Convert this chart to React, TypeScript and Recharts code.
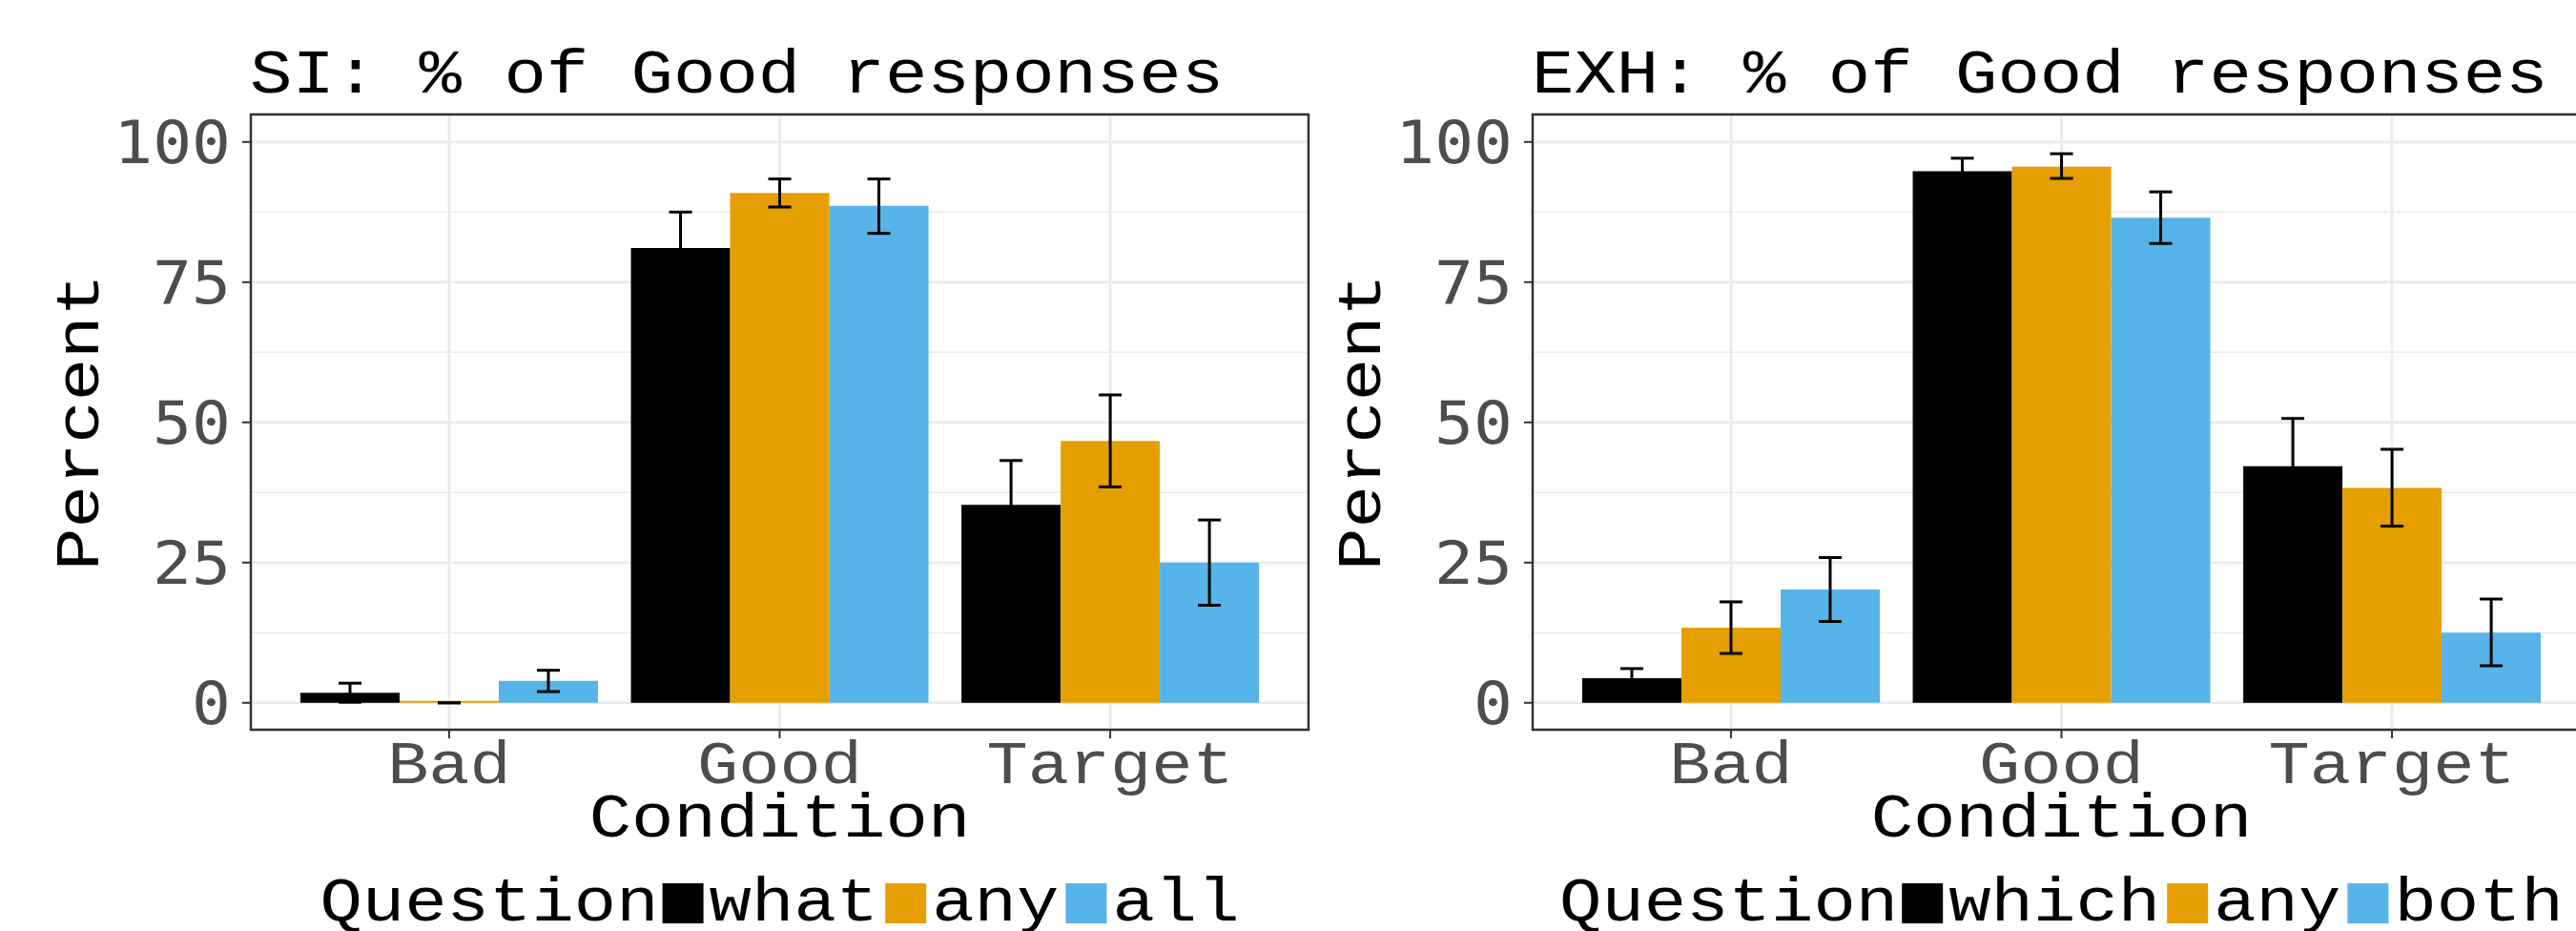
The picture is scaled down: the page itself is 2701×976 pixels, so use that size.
import { BarChart, Bar, XAxis, YAxis, CartesianGrid, ErrorBar } from 'recharts';

const categories = ['Bad', 'Good', 'Target'];

// SI panel: question = what / any / all
const siWhat = [1.8, 81.1, 35.3];
const siWhatLow = [0.1, 74.7, 27.4];
const siWhatHigh = [3.5, 87.5, 43.2];
const siAny = [0, 90.9, 46.7];
const siAnyLow = [0, 88.4, 38.5];
const siAnyHigh = [0, 93.4, 54.9];
const siAll = [3.9, 88.6, 25.0];
const siAllLow = [2.0, 83.7, 17.4];
const siAllHigh = [5.8, 93.4, 32.6];

// EXH panel: question = which / any / both
const exhWhich = [4.4, 94.8, 42.2];
const exhWhichLow = [2.7, 92.4, 33.7];
const exhWhichHigh = [6.1, 97.1, 50.7];
const exhAny = [13.4, 95.6, 38.3];
const exhAnyLow = [8.8, 93.5, 31.5];
const exhAnyHigh = [18.0, 97.9, 45.2];
const exhBoth = [20.2, 86.5, 12.5];
const exhBothLow = [14.5, 81.9, 6.6];
const exhBothHigh = [25.9, 91.1, 18.5];

const yTicks = [0, 25, 50, 75, 100];
const yMinor = [12.5, 37.5, 62.5, 87.5];

const COLORS = ['#000000', '#E69F00', '#56B4E9'];
const MONO = '"Liberation Mono", monospace';
const TICK_FONT = '"DejaVu Sans Mono", monospace';
const SY = 0.87; // squash Liberation Mono toward Courier proportions

const W = 1380;
const H = 976;
const PLOT_L = 263;
const PLOT_T = 120;
const PLOT_W = 1109;
const PLOT_H = 645;
const Y_AXIS_W = 200;
const X_AXIS_H = 100;
const BAND = PLOT_W / 3.2;

function buildRows(vals: number[][], lows: number[][], highs: number[][]) {
  return categories.map((c, i) => {
    const row: any = { condition: c };
    vals.forEach((v, s) => {
      row['s' + s] = v[i];
      row['e' + s] = [v[i] - lows[s][i], highs[s][i] - v[i]];
    });
    return row;
  });
}

function Txt({ x, y, size, children, anchor = 'start', fill = '#000', family = MONO, sy = SY, rotate = 0 }: any) {
  return (
    <text
      transform={`translate(${x},${y}) rotate(${rotate}) scale(1,${sy})`}
      textAnchor={anchor}
      fontFamily={family}
      fontSize={size}
      fill={fill}
    >
      {children}
    </text>
  );
}

const XTick = (p: any) => (
  <Txt x={p.x} y={p.y + 45} size={72} anchor="middle" fill="#4D4D4D">
    {p.payload.value}
  </Txt>
);

const YTick = (p: any) => (
  <Txt x={p.x - 10} y={p.y + 22.5} size={68} anchor="end" fill="#4D4D4D" family={TICK_FONT} sy={0.91}>
    {p.payload.value}
  </Txt>
);

function Legend({ names }: { names: string[] }) {
  const fs = 74;
  const cw = fs * 0.6;
  const total = (8 + names.reduce((a, n) => a + n.length, 0)) * cw + 165;
  let x = PLOT_L + PLOT_W / 2 - total / 2;
  const items: any[] = [
    <Txt key="t" x={x} y={965} size={fs}>
      Question
    </Txt>,
  ];
  x += 8 * cw + 4;
  names.forEach((n, i) => {
    items.push(<rect key={'k' + i} x={x} y={926} width={43} height={42} fill={COLORS[i]} />);
    x += 49;
    items.push(
      <Txt key={'l' + i} x={x} y={965} size={fs}>
        {n}
      </Txt>
    );
    x += n.length * cw + 7;
  });
  return <g>{items}</g>;
}

// vertical major gridlines sit on the category centres
const verticalGrid = (props: any) => {
  const scale = props?.xAxis?.scale;
  if (typeof scale === 'function' && typeof scale.bandwidth === 'function') {
    return categories.map((c) => scale(c) + scale.bandwidth() / 2);
  }
  return categories.map((_, i) => PLOT_L + BAND * (0.6 + i));
};

function Panel({ left, title, names, rows }: any) {
  return (
    <div style={{ position: 'absolute', left, top: 0, width: W, height: H }}>
      <BarChart
        width={W}
        height={H}
        data={rows}
        margin={{
          top: PLOT_T,
          right: W - PLOT_L - PLOT_W,
          left: PLOT_L - Y_AXIS_W,
          bottom: H - PLOT_T - PLOT_H - X_AXIS_H,
        }}
        barCategoryGap="5%"
        barGap={0}
      >
        <CartesianGrid horizontalValues={yMinor} vertical={false} stroke="#EBEBEB" strokeWidth={1.4} />
        <CartesianGrid stroke="#EBEBEB" strokeWidth={2.8} verticalCoordinatesGenerator={verticalGrid} />
        <XAxis
          dataKey="condition"
          height={X_AXIS_H}
          padding={{ left: BAND * 0.1, right: BAND * 0.1 }}
          axisLine={false}
          tickLine={{ stroke: '#333333', strokeWidth: 2 }}
          tickSize={9}
          tickMargin={2}
          interval={0}
          tick={XTick}
        />
        <YAxis
          type="number"
          domain={[-4.8, 104.9]}
          ticks={yTicks}
          allowDataOverflow
          width={Y_AXIS_W}
          axisLine={false}
          tickLine={{ stroke: '#333333', strokeWidth: 2 }}
          tickSize={9}
          tickMargin={2}
          tick={YTick}
        />
        {names.map((n: string, i: number) => (
          <Bar key={n} dataKey={'s' + i} name={n} fill={COLORS[i]} minPointSize={2} isAnimationActive={false}>
            <ErrorBar dataKey={'e' + i} width={12} strokeWidth={3} stroke="#000" isAnimationActive={false} />
          </Bar>
        ))}
      </BarChart>
      <svg width={W} height={H} style={{ position: 'absolute', left: 0, top: 0, pointerEvents: 'none' }}>
        <rect x={PLOT_L} y={PLOT_T} width={PLOT_W} height={PLOT_H} fill="none" stroke="#333333" strokeWidth={2.5} />
        <Txt x={262} y={97} size={74}>
          {title}
        </Txt>
        <Txt x={103} y={PLOT_T + PLOT_H / 2} size={74} anchor="middle" rotate={-90}>
          Percent
        </Txt>
        <Txt x={PLOT_L + PLOT_W / 2} y={877} size={74} anchor="middle">
          Condition
        </Txt>
        <Legend names={names} />
      </svg>
    </div>
  );
}

export default function App() {
  const siRows = buildRows(
    [siWhat, siAny, siAll],
    [siWhatLow, siAnyLow, siAllLow],
    [siWhatHigh, siAnyHigh, siAllHigh]
  );
  const exhRows = buildRows(
    [exhWhich, exhAny, exhBoth],
    [exhWhichLow, exhAnyLow, exhBothLow],
    [exhWhichHigh, exhAnyHigh, exhBothHigh]
  );
  return (
    <div
      style={{
        position: 'absolute',
        left: 0,
        top: 0,
        width: 2701,
        height: 976,
        overflow: 'hidden',
        background: '#ffffff',
      }}
    >
      <Panel left={0} title="SI: % of Good responses" names={['what', 'any', 'all']} rows={siRows} />
      <Panel left={1344} title="EXH: % of Good responses" names={['which', 'any', 'both']} rows={exhRows} />
    </div>
  );
}
